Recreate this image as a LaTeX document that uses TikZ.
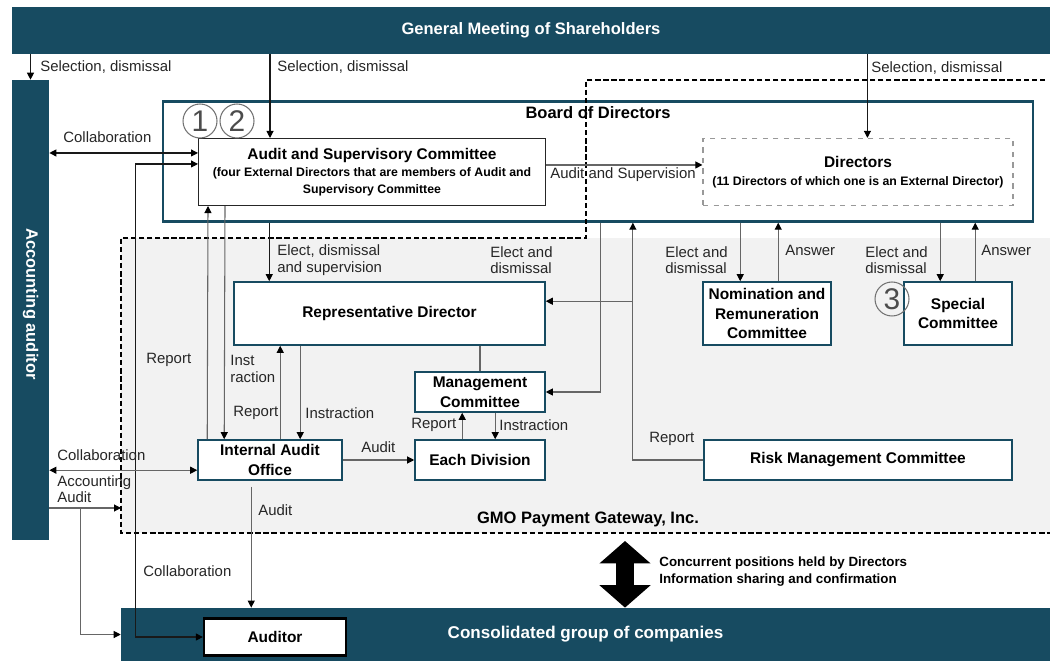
\documentclass[tikz,border=0pt]{standalone}
\usepackage{fontspec}
\setmainfont{Liberation Sans}
\usepackage{xcolor}
\usetikzlibrary{arrows.meta, positioning, calc}

\definecolor{gmoteal}{HTML}{174B61}
\definecolor{gmogrey}{HTML}{F2F2F2}
\newcommand{\lblfont}{\fontsize{8.5}{9.3}\selectfont}
\newcommand{\boxfont}{\bfseries\fontsize{8.8}{11.3}\selectfont}
\newcommand{\subfont}{\bfseries\fontsize{7}{9.6}\selectfont}
\newcommand{\headfont}{\bfseries\fontsize{9.4}{11}\selectfont}

\begin{document}
\begin{tikzpicture}[
    x=0.02cm, y=-0.02cm,
    >={Triangle[length=1.4mm, width=1.4mm, color=black]},
    bar/.style={fill=gmoteal, text=white, font=\headfont, inner sep=0pt},
    unit/.style={draw=gmoteal, line width=0.9pt, fill=white, font=\boxfont, align=center, inner sep=1pt},
    lbl/.style={font=\lblfont, text=black!85, align=left, inner sep=0pt, anchor=west},
    link/.style={draw=black!60, line width=0.6pt},
    mainlink/.style={draw=black!90, line width=0.6pt},
    num/.style={circle, draw=black!55, line width=0.6pt, minimum size=0.68cm, inner sep=0pt, text=black!70, font=\fontsize{17}{17}\selectfont}
  ]
  \useasboundingbox (0,0) rectangle (1050,661);

  % company frame and board
  \fill[gmogrey] (121,238) rectangle (1050,533);
  \node[draw=gmoteal, line width=1.4pt, fill=white, minimum width=17.4cm, minimum height=2.4cm] (Board) at (598,161.5) {};
  \node[font=\headfont, inner sep=0pt, anchor=north] (BoardT) at ($(Board.north)+(0,6)$) {Board of Directors};
  \draw[line width=1.3pt, dash pattern=on 3pt off 1.6pt] (1045,80) -- (586,80) -- (586,238) -- (121,238) -- (121,533) -- (1050,533);
  \node[font=\headfont, inner sep=0pt] (GMOT) at (588,519) {GMO Payment Gateway, Inc.};

  % bars
  \node[bar, minimum width=20.76cm, minimum height=0.94cm] (GMS) at (531,30.5) {General Meeting of Shareholders};
  \node[bar, minimum width=0.74cm, minimum height=9.2cm] (AA) at (30.5,310) {};
  \node[font=\headfont, text=white, rotate=-90, inner sep=0pt] (AAT) at ($(AA.center)+(0,-6)$) {Accounting auditor};
  \node[bar, minimum width=18.58cm, minimum height=1.06cm, font=\bfseries\fontsize{9.7}{11}\selectfont] (CG) at (585.5,634.5) {Consolidated group of companies};

  % boxes
  \node[unit, draw=black!85, line width=0.6pt, font=\subfont, minimum width=6.94cm, minimum height=1.34cm] (ASC) at (372,172) {{\boxfont Audit and Supervisory Committee}\\(four External Directors that are members of Audit and\\Supervisory Committee};
  \node[unit, draw=black!40, dashed, line width=0.7pt, font=\subfont, minimum width=6.2cm, minimum height=1.34cm] (Dir) at (858,172) {{\boxfont Directors}\\[1pt](11 Directors of which one is an External Director)};
  \node[unit, minimum width=6.22cm, minimum height=1.26cm] (Rep) at (389.5,313.5) {Representative Director};
  \node[unit, minimum width=2.56cm, minimum height=1.26cm] (NRC) at (767,313.5) {Nomination and\\Remuneration\\Committee};
  \node[unit, minimum width=2.16cm, minimum height=1.26cm] (Spec) at (958,313.5) {Special\\Committee};
  \node[unit, minimum width=2.6cm, minimum height=0.8cm] (Mgmt) at (480,392) {Management\\Committee};
  \node[unit, minimum width=2.88cm, minimum height=0.8cm] (IAO) at (270,460) {Internal Audit\\Office};
  \node[unit, minimum width=2.6cm, minimum height=0.8cm] (Div) at (480,460) {Each Division};
  \node[unit, minimum width=6.16cm, minimum height=0.8cm] (RMC) at (858,460) {Risk Management Committee};
  \node[unit, draw=black, line width=1.3pt, minimum width=2.84cm, minimum height=0.74cm] (Auditor) at (275,637) {Auditor};

  \node[num] (n1) at (200,121) {1};
  \node[num] (n2) at (237,121) {2};
  \node[num] (n3) at (892,299) {3};

  % selection, dismissal
  \draw[mainlink, ->] (GMS.south -| AA.north) -- (AA.north);
  \coordinate (ascTop) at ($(ASC.north west)+(72,0)$);
  \draw[mainlink, ->] (GMS.south -| ascTop) -- (ascTop);
  \coordinate (dirTop) at ($(Dir.north west)+(165,0)$);
  \draw[mainlink, ->] (GMS.south -| dirTop) -- (dirTop);
  \node[lbl] (l1) at (40,67) {Selection, dismissal};
  \node[lbl] (l2) at (277,67) {Selection, dismissal};
  \node[lbl] (l3) at (871,68) {Selection, dismissal};

  % audit and supervisory committee
  \coordinate (ascC) at ($(ASC.north west)+(0,15)$);
  \draw[mainlink, <->] (AA.east |- ascC) -- (ascC);
  \node[lbl] (l4) at (63,137) {Collaboration};
  \coordinate (ascS) at ($(ASC.north east)+(0,27)$);
  \draw[link, ->] (ascS) -- (Dir.west |- ascS);
  \node[lbl] (l5) at (550,175) {Audit and Supervision};
  \coordinate (ascA) at ($(ASC.north west)+(0,26)$);
  \draw[mainlink, <->] (ascA) -| ($(Auditor.west)+(-67,0)$) -- (Auditor.west);
  \node[lbl] (l6) at (143,571) {Collaboration};
  \draw[link, ->] ($(IAO.north west)+(10,0)$) -- ($(ASC.south west)+(10,0)$);
  \node[lbl] (l7) at (146,360) {Report};
  \draw[link, ->] ($(ASC.south west)+(27,0)$) -- ($(IAO.north west)+(27,0)$);
  \node[lbl] (l8) at (230,369) {Inst\\raction};

  % board to executives
  \coordinate (repTop) at ($(Rep.north west)+(36,0)$);
  \draw[mainlink, ->] (Board.south -| repTop) -- (repTop);
  \node[lbl] (l9) at (277,260) {Elect, dismissal\\and supervision};
  \coordinate (bMg) at ($(Board.south west)+(439,0)$);
  \draw[link, ->] (bMg) |- (Mgmt.east);
  \node[lbl] (l10) at (490,260) {Elect and\\dismissal};
  \coordinate (bRp) at ($(Board.south west)+(471,0)$);
  \coordinate (repR) at ($(Rep.north east)+(0,20)$);
  \draw[link, ->] (RMC.west) -| (bRp);
  \draw[link, ->] (bRp |- repR) -- (repR);
  \node[lbl] (l11) at (649,439) {Report};

  % committees
  \coordinate (nrcA) at ($(NRC.north west)+(38,0)$);
  \coordinate (nrcB) at ($(NRC.north west)+(76,0)$);
  \draw[link, ->] (Board.south -| nrcA) -- (nrcA);
  \draw[link, ->] (nrcB) -- (Board.south -| nrcB);
  \node[lbl] (l12) at (665,260) {Elect and\\dismissal};
  \node[lbl] (l13) at (785,250) {Answer};
  \coordinate (spA) at ($(Spec.north west)+(37,0)$);
  \coordinate (spB) at ($(Spec.north west)+(72,0)$);
  \draw[link, ->] (Board.south -| spA) -- (spA);
  \draw[link, ->] (spB) -- (Board.south -| spB);
  \node[lbl] (l14) at (865,260) {Elect and\\dismissal};
  \node[lbl] (l15) at (981,250) {Answer};

  % internal lines
  \draw[link] (Rep.south -| Mgmt.north) -- (Mgmt.north);
  \coordinate (iaoR) at ($(IAO.north west)+(83,0)$);
  \coordinate (iaoI) at ($(IAO.north west)+(103,0)$);
  \draw[link, ->] (iaoR) -- (Rep.south -| iaoR);
  \draw[link, ->] (Rep.south -| iaoI) -- (iaoI);
  \node[lbl] (l16) at (233,413) {Report};
  \node[lbl] (l17) at (305,413) {Instraction};
  \draw[link, ->] (IAO.east) -- (Div.west);
  \node[lbl] (l18) at (361,447) {Audit};
  \coordinate (divR) at ($(Div.north west)+(48,0)$);
  \coordinate (divI) at ($(Div.north west)+(81,0)$);
  \draw[link, ->] (divR) -- (Mgmt.south -| divR);
  \draw[link, ->] (Mgmt.south -| divI) -- (divI);
  \node[lbl] (l19) at (411,425) {Report};
  \node[lbl] (l20) at (499,425) {Instraction};

  % accounting auditor
  \coordinate (iaoC) at ($(IAO.north west)+(0,31)$);
  \draw[link, <->] (AA.east |- iaoC) -- (iaoC);
  \node[lbl] (l21) at (57,455) {Collaboration};
  \coordinate (gmoL) at (121,508);
  \draw[link, ->] (AA.east |- gmoL) -- (gmoL);
  \draw[link, ->] ($(AA.east |- gmoL)+(31,0)$) |- (CG.west);
  \node[lbl] (l22) at (57,489) {Accounting\\Audit};
  \coordinate (iaoD) at ($(IAO.south west)+(54,6)$);
  \draw[link, ->] (iaoD) -- (CG.north -| iaoD);
  \node[lbl] (l23) at (258,510) {Audit};

  % group companies
  \coordinate (bigTop) at (625,541);
  \draw[line width=0.36cm, {Triangle[length=0.45cm, width=1cm]}-{Triangle[length=0.45cm, width=1cm]}] (bigTop) -- (CG.north -| bigTop);
  \node[lbl, font=\bfseries\fontsize{7.6}{9.6}\selectfont, text=black] (l24) at (659,572) {Concurrent positions held by Directors\\Information sharing and confirmation};
\end{tikzpicture}
\end{document}
